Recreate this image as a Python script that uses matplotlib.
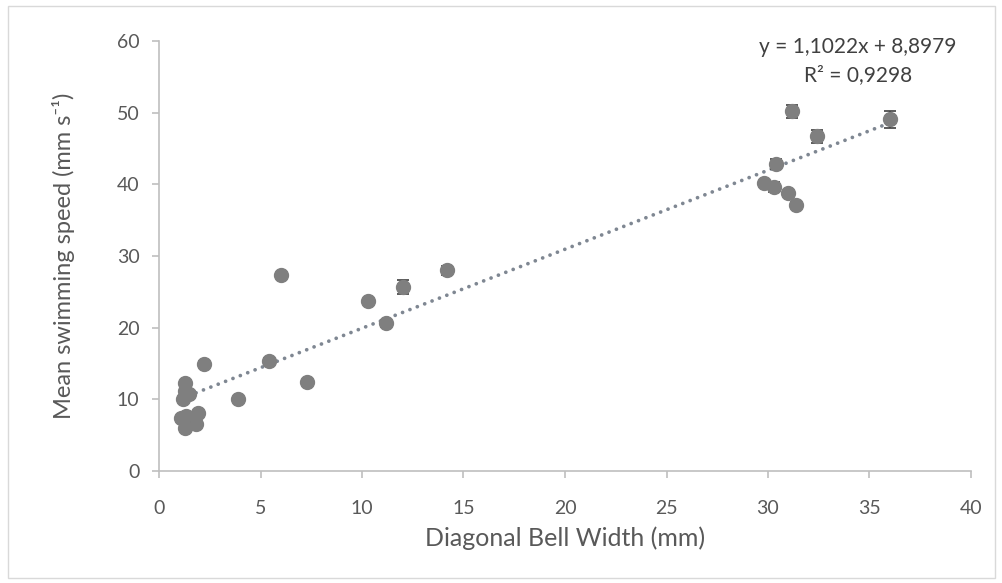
import matplotlib.pyplot as plt
from matplotlib.patches import Rectangle

# bell width (mm), mean speed (mm/s), error
bell_width = [1.1, 1.3, 1.35, 1.8, 1.9, 1.2, 1.3, 1.3, 1.5, 2.2, 3.9, 5.4, 6.0, 7.3,
              10.3, 11.2, 12.0, 14.2, 29.8, 30.3, 30.4, 31.0, 31.4, 31.2, 32.4, 36.0]
speed = [7.4, 6.0, 7.7, 6.6, 8.1, 10.0, 11.2, 12.3, 10.8, 15.0, 10.1, 15.4, 27.4, 12.4,
         23.7, 20.6, 25.7, 28.0, 40.2, 39.6, 42.8, 38.8, 37.1, 50.2, 46.7, 49.1]
speed_err = [0.2, 0.2, 0.2, 0.2, 0.2, 0.2, 0.2, 0.3, 0.2, 0.3, 0.2, 0.3, 0.2, 0.2,
             0.2, 0.5, 1.0, 0.6, 0.2, 0.7, 0.7, 0.3, 0.4, 0.9, 0.9, 1.2]

slope = 1.1022
intercept = 8.8979

plt.rcParams['font.family'] = ['Lato', 'DejaVu Sans']

fig = plt.figure(figsize=(10.03, 5.83), dpi=100)
ax = fig.add_axes([159/1003, 1 - 471/583, (971-159)/1003, (471-41)/583])

# outer chart border
fig.patches.append(Rectangle((8/1003, 5/583), 987/1003, 572/583, transform=fig.transFigure,
                             fill=False, edgecolor='#d9d9d9', linewidth=1))

ax.errorbar(bell_width, speed, yerr=speed_err, fmt='o', color='#7f7f7f', ms=10,
            ecolor='#404040', elinewidth=1.2, capsize=4.5, capthick=1.2, zorder=3)

xs = [min(bell_width), max(bell_width)]
ax.plot(xs, [slope * x + intercept for x in xs], linestyle=(0, (0.01, 2.1)),
        color='#7f8792', linewidth=2.7, dash_capstyle='round', zorder=2)

ax.set_xlim(0, 40)
ax.set_ylim(0, 60)
ax.set_xticks(range(0, 41, 5))
ax.set_yticks(range(0, 61, 10))

for s in ['top', 'right']:
    ax.spines[s].set_visible(False)
for s in ['left', 'bottom']:
    ax.spines[s].set_color('#bfbfbf')
    ax.spines[s].set_linewidth(1.2)
ax.tick_params(colors='#bfbfbf', labelcolor='#595959', labelsize=14, length=5, width=1.2)
ax.tick_params(axis='y', pad=9)
ax.tick_params(axis='x', pad=16)

ax.set_xlabel('Diagonal Bell Width (mm)', fontsize=18, color='#595959', labelpad=7)
ax.set_ylabel('Mean swimming speed (mm s⁻¹)', fontsize=17, color='#595959', labelpad=30)

ax.text(39.3, 60.6, 'y = 1,1022x + 8,8979\nR² = 0,9298', ha='right', va='top',
        fontsize=15, color='#404040', multialignment='center', linespacing=1.5)

fig.savefig('out.png', dpi=100)
